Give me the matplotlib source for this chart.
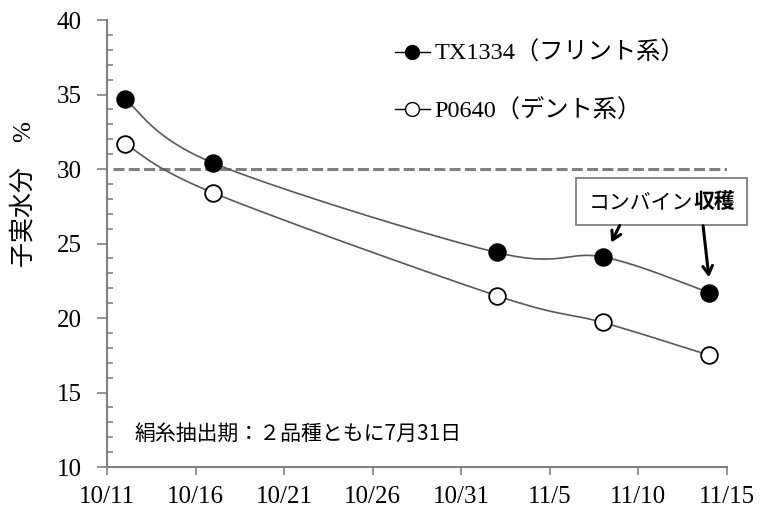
import numpy as np
import matplotlib.pyplot as plt
import matplotlib.dates as mdates
from matplotlib.offsetbox import TextArea, HPacker, AnnotationBbox
from datetime import datetime

plt.rcParams['font.family'] = ['Liberation Serif', 'Noto Sans CJK JP', 'DejaVu Sans']

# データ
fechas = ['10/12', '10/17', '11/2', '11/8', '11/14']
tx1334 = [34.7, 30.4, 24.4, 24.1, 21.7]
p0640 = [31.7, 28.4, 21.5, 19.7, 17.5]
etiquetas_x = ['10/11', '10/16', '10/21', '10/26', '10/31', '11/5', '11/10', '11/15']
umbral = 30
nombres = ['TX1334（フリント系）', 'P0640（デント系）']

anio = 2014
x_dt = [datetime.strptime(f'{anio}/{f}', '%Y/%m/%d') for f in fechas]
ticks_dt = [datetime.strptime(f'{anio}/{f}', '%Y/%m/%d') for f in etiquetas_x]
x_num = mdates.date2num(x_dt)


def suavizar(x, y, n=40):
    # curva suavizada tipo Excel (Bezier con tension 1/6)
    x = np.asarray(x, float)
    y = np.asarray(y, float)
    sx, sy = 35.0, 30.0
    P = np.column_stack([x / sx, y / sy])
    out = []
    for i in range(len(P) - 1):
        p0 = P[i - 1] if i > 0 else P[i]
        p1 = P[i]
        p2 = P[i + 1]
        p3 = P[i + 2] if i + 2 < len(P) else P[i + 1]
        c1 = p1 + (p2 - p0) / 6
        c2 = p2 - (p3 - p1) / 6
        t = np.linspace(0, 1, n)[:, None]
        seg = (1 - t) ** 3 * p1 + 3 * (1 - t) ** 2 * t * c1 + 3 * (1 - t) * t ** 2 * c2 + t ** 3 * p2
        out.append(seg)
    out = np.vstack(out)
    return out[:, 0] * sx, out[:, 1] * sy


fig = plt.figure(figsize=(7.62, 5.14), dpi=100)
ax = fig.add_axes([0.1404, 0.0914, 0.8136, 0.8696])

ax.axhline(umbral, xmin=0.01, xmax=1.0, color='#808080', lw=2.2, ls=(0, (3.6, 1.4)), zorder=1)

for serie, cara, nombre in [(tx1334, 'black', nombres[0]), (p0640, 'white', nombres[1])]:
    cx, cy = suavizar(x_num, serie)
    ax.plot(cx, cy, color='#595959', lw=1.2, zorder=2)
    ax.plot(x_num, serie, 'o', ms=12, mfc=cara, mec='black', mew=1.3, zorder=3)
    ax.plot([], [], '-o', color='black', lw=1, ms=10, mfc=cara, mec='black', label=nombre)

ax.set_xlim(ticks_dt[0], ticks_dt[-1])
ax.set_xticks(ticks_dt)
ax.set_xticklabels(etiquetas_x)
ax.set_ylim(10, 40)
ax.set_yticks(np.arange(10, 41, 5))
ax.set_yticks(np.arange(10, 41, 1), minor=True)
ax.tick_params(axis='y', which='major', direction='out', length=7, color='#808080', width=1.2,
               labelsize=18, pad=11)
ax.tick_params(axis='y', which='minor', direction='in', length=4, color='#808080', width=1.2)
ax.tick_params(axis='x', which='major', direction='out', length=6, color='#808080', width=1.2,
               labelsize=18, pad=7.5)
for s in ['top', 'right']:
    ax.spines[s].set_visible(False)
for s in ['left', 'bottom']:
    ax.spines[s].set_color('#808080')
    ax.spines[s].set_linewidth(1.5)

ax.set_ylabel('子実水分　%', fontsize=18)
ax.yaxis.set_label_coords(-0.115, 0.61)

ax.legend(loc='upper left', bbox_to_anchor=(0.429, 1.0), frameon=False, fontsize=17.5,
          handlelength=1.44, handletextpad=0.2, labelspacing=1.42)

ax.text(0.045, 0.074, '絹糸抽出期：２品種ともに7月31日', transform=ax.transAxes, fontsize=15,
        family=['Noto Sans CJK JP'], va='center', ha='left')

t1 = TextArea('コンバイン', textprops=dict(fontsize=15, family=['Noto Sans CJK JP']))
t2 = TextArea('収穫', textprops=dict(fontsize=15, family=['Noto Sans CJK JP'], weight='bold'))
caja = AnnotationBbox(HPacker(children=[t1, t2], pad=0, sep=0, align='baseline'),
                      (0.895, 0.593), xycoords='axes fraction', frameon=True, fontsize=10,
                      bboxprops=dict(boxstyle='square,pad=0.9', fc='white', ec='#808080', lw=1.3))
ax.add_artist(caja)

ax.annotate('', xy=(x_num[3] + 0.4, tx1334[3] + 0.8), xytext=(0.829, 0.546), textcoords='axes fraction',
            arrowprops=dict(arrowstyle='->,head_length=0.6,head_width=0.35', color='black', lw=2.2))
ax.annotate('', xy=(x_num[4], tx1334[4] + 0.85), xytext=(0.961, 0.546), textcoords='axes fraction',
            arrowprops=dict(arrowstyle='->,head_length=0.6,head_width=0.35', color='black', lw=2.2))

plt.savefig('out.png', dpi=100)
